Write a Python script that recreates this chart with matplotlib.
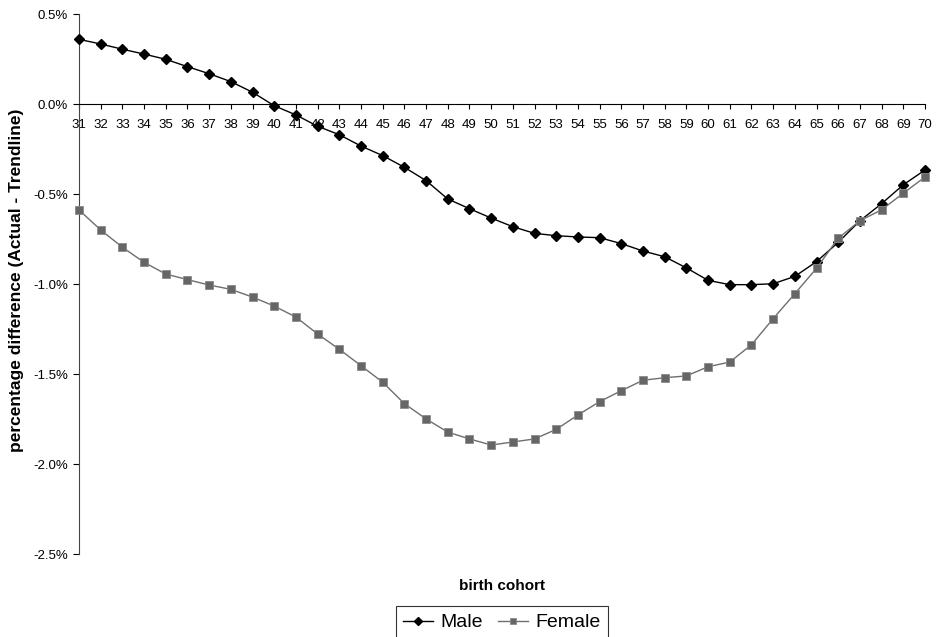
import numpy as np
import matplotlib.pyplot as plt
from matplotlib.ticker import FuncFormatter

plt.rcParams['font.family'] = ['Liberation Sans', 'DejaVu Sans']

# birth cohorts and deviation from trendline (in %)
cohort = list(range(31, 71))
male = [0.361, 0.335, 0.306, 0.279, 0.250, 0.209, 0.170, 0.126, 0.067, -0.008,
        -0.059, -0.122, -0.169, -0.232, -0.285, -0.350, -0.424, -0.526, -0.580, -0.632,
        -0.680, -0.717, -0.730, -0.737, -0.741, -0.774, -0.815, -0.847, -0.909, -0.978,
        -1.002, -1.002, -0.997, -0.956, -0.874, -0.767, -0.647, -0.552, -0.447, -0.365]
female = [-0.587, -0.698, -0.794, -0.878, -0.943, -0.974, -1.004, -1.028, -1.071, -1.121,
          -1.182, -1.276, -1.361, -1.452, -1.544, -1.663, -1.748, -1.821, -1.859, -1.893,
          -1.876, -1.859, -1.806, -1.726, -1.652, -1.591, -1.533, -1.519, -1.509, -1.458,
          -1.432, -1.336, -1.191, -1.052, -0.911, -0.744, -0.647, -0.586, -0.494, -0.404]
yticks = [0.5, 0.0, -0.5, -1.0, -1.5, -2.0, -2.5]

fig = plt.figure(figsize=(9.36, 6.37), dpi=100)
ax = fig.add_axes([79/936, 1-554.3/637, 846/936, 540/637])

l1, = ax.plot(cohort, male, color='black', lw=1.0, marker='D', markersize=5.5,
              clip_on=False, zorder=3, label='Male')
l2, = ax.plot(cohort, female, color='#6e6e6e', lw=1.0, marker='s', markersize=5.5,
              markerfacecolor='#666666', markeredgecolor='#8a8a8a', markeredgewidth=0.6,
              clip_on=False, zorder=4, label='Female')

ax.set_xlim(31, 70)
ax.set_ylim(-2.5, 0.5)
ax.set_yticks(yticks)
ax.yaxis.set_major_formatter(FuncFormatter(lambda v, p: '%.1f%%' % v))
ax.set_xticks(cohort)

ax.spines['top'].set_visible(False)
ax.spines['right'].set_visible(False)
ax.spines['bottom'].set_position(('data', 0))
ax.spines['left'].set_color('#444444')
ax.spines['bottom'].set_color('black')
ax.tick_params(axis='x', direction='out', length=3.5, pad=7, labelsize=9.5, width=0.8)
ax.tick_params(axis='y', direction='out', length=4.5, pad=3.5, labelsize=9.5, width=0.8)

ax.set_ylabel('percentage difference (Actual - Trendline)', fontsize=12.5, fontweight='bold')
ax.yaxis.set_label_coords(-0.0645, 0.508)
ax.set_xlabel('birth cohort', fontsize=11, fontweight='bold')
ax.xaxis.set_label_coords(0.5, -0.0465)

leg = fig.legend(handles=[l1, l2], loc='upper center', bbox_to_anchor=(502/936, 1-606/637),
                 ncol=2, fontsize=14, frameon=True, fancybox=False, edgecolor='black',
                 handlelength=1.5, handletextpad=0.4, columnspacing=0.8, borderpad=0.4,
                 borderaxespad=0, markerscale=0.8, numpoints=1)
leg.get_frame().set_linewidth(0.8)

plt.savefig('out.png', dpi=100)
